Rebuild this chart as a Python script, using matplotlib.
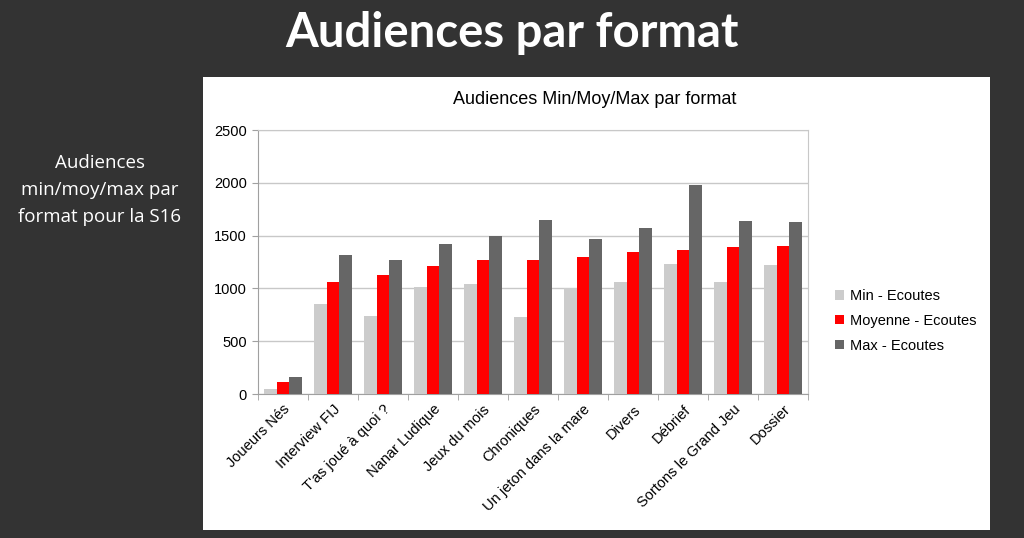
import matplotlib.pyplot as plt
import matplotlib.patches as mpatches
import numpy as np

# Données (écoutes par format, S16)
formats = ["Joueurs Nés", "Interview FIJ", "T'as joué à quoi ?", "Nanar Ludique",
           "Jeux du mois", "Chroniques", "Un jeton dans la mare", "Divers",
           "Débrief", "Sortons le Grand Jeu", "Dossier"]
min_ecoutes = [45, 850, 740, 1015, 1040, 725, 1005, 1060, 1230, 1060, 1225]
moy_ecoutes = [110, 1065, 1125, 1215, 1270, 1270, 1295, 1345, 1365, 1390, 1405]
max_ecoutes = [158, 1312, 1272, 1418, 1493, 1646, 1468, 1572, 1976, 1638, 1628]
series_labels = ["Min - Ecoutes", "Moyenne - Ecoutes", "Max - Ecoutes"]
series_colors = ["#cccccc", "#ff0000", "#666666"]

fig = plt.figure(figsize=(10.24, 5.38), dpi=100)
fig.patch.set_facecolor("#333333")

# panneau blanc du graphique (derrière les axes)
panel = mpatches.Rectangle((203 / 1024, 1 - 530 / 538), 787 / 1024, 453 / 538,
                           transform=fig.transFigure, facecolor="white",
                           edgecolor="none", zorder=-10)
fig.patches.append(panel)

fig.text(0.5, 1 - 33 / 538, "Audiences par format", color="white",
         fontsize=34, fontweight="bold", family="Lato", ha="center", va="center")
fig.text(100 / 1024, 1 - 190 / 538, "Audiences\nmin/moy/max par\nformat pour la S16",
         color="white", fontsize=13.5, family="Open Sans", ha="center", va="center",
         linespacing=1.65)
fig.text(595 / 1024, 1 - 100 / 538, "Audiences Min/Moy/Max par format",
         color="black", fontsize=13, family="Liberation Sans", ha="center", va="center")

ax = fig.add_axes([258 / 1024, 1 - 394 / 538, 550 / 1024, 264 / 538])
ax.set_facecolor("white")

x = np.arange(len(formats))
w = 0.25
for i, (vals, lab, col) in enumerate(zip([min_ecoutes, moy_ecoutes, max_ecoutes],
                                         series_labels, series_colors)):
    ax.bar(x + (i - 1) * w, vals, width=w, color=col, label=lab, zorder=3)

ax.set_xlim(-0.5, len(formats) - 0.5)
ax.set_ylim(0, 2500)
ax.set_yticks(range(0, 2501, 500))
ax.yaxis.grid(True, color="#c8c8c8", linewidth=1, zorder=0)
for s in ax.spines.values():
    s.set_color("#c8c8c8")
ax.spines["left"].set_color("#a0a0a0")
ax.spines["bottom"].set_color("#a0a0a0")

ax.set_xticks(x)
ax.set_xticklabels(formats, rotation=45, ha="right", rotation_mode="anchor",
                   family="Liberation Sans", fontsize=10.5)
ax.tick_params(axis="x", length=0, pad=6)
ax.set_xticks(np.arange(-0.5, len(formats), 1), minor=True)
ax.tick_params(axis="x", which="minor", length=4, color="#a0a0a0", direction="out")
ax.tick_params(axis="y", length=4, color="#a0a0a0", labelsize=10.5, pad=4)
for t in ax.get_yticklabels():
    t.set_family("Liberation Sans")

leg = fig.legend(loc="center left", bbox_to_anchor=(822 / 1024, 1 - 321 / 538),
                 frameon=False, prop={"family": "Liberation Sans", "size": 10.5},
                 handlelength=0.6, handleheight=0.6, handletextpad=0.4,
                 labelspacing=0.75)

fig.savefig("out.png", dpi=100, facecolor=fig.get_facecolor())
